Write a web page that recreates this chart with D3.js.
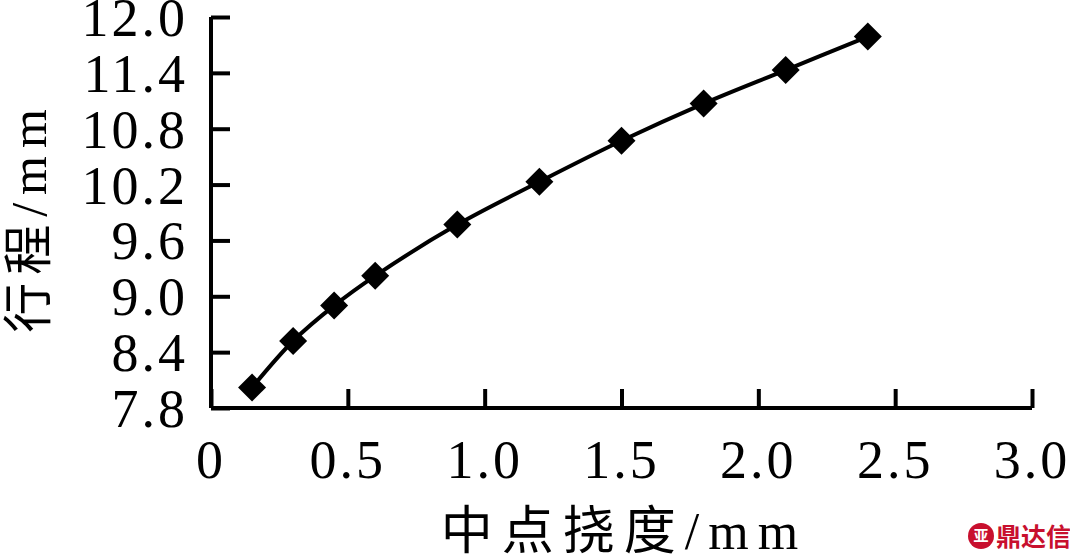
<!DOCTYPE html>
<html>
<head>
<meta charset="utf-8">
<script src="https://cdn.jsdelivr.net/npm/d3@7"></script>
<style>
  body { margin: 0; background: #fff; }
  svg { display: block; }
  text { font-family: "Liberation Serif", "Noto Sans CJK SC", serif; fill: #000; }
</style>
</head>
<body>
<div id="chart"></div>
<script>
// data
const deflection = [0.15, 0.3, 0.45, 0.6, 0.9, 1.2, 1.5, 1.8, 2.1, 2.4]
const stroke = [8.02, 8.52, 8.90, 9.22, 9.77, 10.23, 10.67, 11.07, 11.43, 11.79]
const xTicks = [0, 0.5, 1.0, 1.5, 2.0, 2.5, 3.0]
const yTicks = [7.8, 8.4, 9.0, 9.6, 10.2, 10.8, 11.4, 12.0]
const xTitle = "中点挠度/mm"
const yTitle = "行程/mm"

const width = 1070, height = 557
const svg = d3.select("#chart").append("svg")
  .attr("width", width)
  .attr("height", height)

const x = d3.scaleLinear().domain([0, 3]).range([211, 1032])
const y = d3.scaleLinear().domain([7.8, 12.0]).range([408, 17])

// axes: ticks point inward
const xAxis = d3.axisBottom(x).tickValues(xTicks).tickSize(-19).tickFormat(d => "")
const yAxis = d3.axisLeft(y).tickValues(yTicks).tickSize(-19).tickFormat(d => "")

const gx = svg.append("g").attr("transform", "translate(0,408)").call(xAxis)
const gy = svg.append("g").attr("transform", "translate(211,0)").call(yAxis)

;[gx, gy].forEach(g => {
  g.select(".domain").attr("stroke", "#000").attr("stroke-width", 4)
  g.selectAll(".tick line").attr("stroke", "#000").attr("stroke-width", 4)
})
gx.select(".domain").attr("d", "M211,0H1032")
gy.select(".domain").attr("d", "M0,408V17")

// tick labels
svg.append("g").selectAll("text")
  .data(xTicks)
  .enter().append("text")
  .attr("x", d => x(d))
  .attr("y", 478)
  .attr("text-anchor", "middle")
  .attr("font-size", 54)
  .attr("letter-spacing", 3)
  .text(d => d === 0 ? "0" : d.toFixed(1))

svg.append("g").selectAll("text")
  .data(yTicks)
  .enter().append("text")
  .attr("x", 188)
  .attr("y", d => y(d) + 19)
  .attr("text-anchor", "end")
  .attr("font-size", 54)
  .attr("letter-spacing", 3)
  .text(d => d.toFixed(1))

// axis titles
svg.append("text")
  .attr("x", 624)
  .attr("y", 549)
  .attr("text-anchor", "middle")
  .attr("font-size", 52)
  .attr("letter-spacing", 9)
  .text(xTitle)

svg.append("text")
  .attr("transform", "translate(46,217) rotate(-90)")
  .attr("text-anchor", "middle")
  .attr("font-size", 50)
  .attr("letter-spacing", 8)
  .text(yTitle)

// curve + diamond markers
const pts = deflection.map((d, i) => [d, stroke[i]])

const line = d3.line()
  .x(d => x(d[0]))
  .y(d => y(d[1]))
  .curve(d3.curveCatmullRom)

svg.append("path")
  .datum(pts)
  .attr("d", line)
  .attr("fill", "none")
  .attr("stroke", "#000")
  .attr("stroke-width", 4)

svg.append("g").selectAll("path")
  .data(pts)
  .enter().append("path")
  .attr("transform", d => "translate(" + x(d[0]) + "," + y(d[1]) + ")")
  .attr("d", "M0,-14L14,0L0,14L-14,0Z")
  .attr("fill", "#000")

// watermark
const wm = svg.append("g").attr("transform", "translate(981,536)")
wm.append("circle").attr("r", 13).attr("fill", "#c8102e")
wm.append("text")
  .attr("x", 0).attr("y", 5)
  .attr("text-anchor", "middle")
  .attr("font-size", 15)
  .attr("font-weight", "bold")
  .style("fill", "#fff")
  .text("亚")
wm.append("text")
  .attr("x", 15).attr("y", 10)
  .attr("font-size", 25)
  .attr("font-weight", "bold")
  .style("font-family", "'Noto Sans CJK SC', sans-serif")
  .style("fill", "#c8102e")
  .text("鼎达信")
</script>
</body>
</html>
